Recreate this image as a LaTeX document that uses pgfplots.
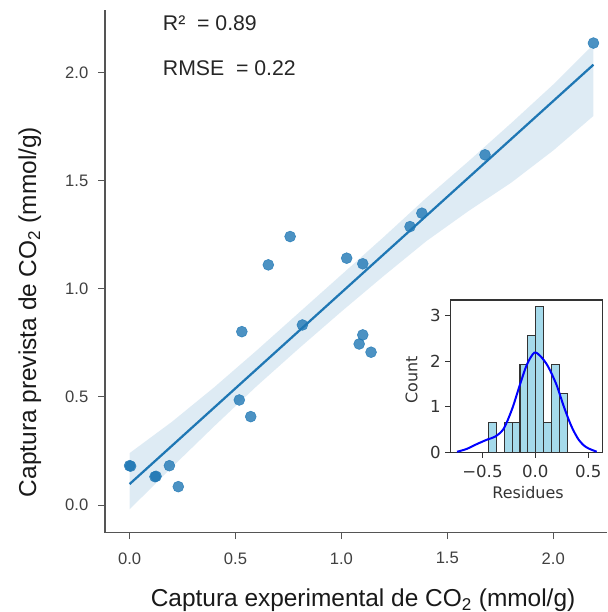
\documentclass[border=0pt]{standalone}
\usepackage{fontspec}
\setmainfont{Liberation Sans}
\newfontfamily\dejavu{DejaVu Sans}
\usepackage{pgfplots}
\pgfplotsset{compat=1.18}
\definecolor{c0}{HTML}{1F77B4}
\definecolor{histfill}{RGB}{165,218,235}
\definecolor{axgray}{RGB}{85,85,85}
\begin{document}
\begin{tikzpicture}
\useasboundingbox (0,0) rectangle (456bp,459bp);
\begin{axis}[
  at={(78.75bp,59.625bp)}, anchor=south west,
  width=376.5bp, height=391.875bp, scale only axis,
  xmin=-0.116, xmax=2.254, ymin=-0.127, ymax=2.29,
  axis x line*=bottom, axis y line*=left,
  axis line style={axgray, line width=0.9bp},
  tick align=outside, major tick length=5bp,
  tick style={axgray, line width=0.8bp},
  xtick={0,0.5,1,1.5,2}, xticklabels={0.0,0.5,1.0,1.5,2.0},
  ytick={0,0.5,1,1.5,2}, yticklabels={0.0,0.5,1.0,1.5,2.0},
  ticklabel style={font=\fontsize{12.5}{14}\selectfont, text=black!75},
  xticklabel style={yshift=-6.5bp},
  yticklabel style={xshift=-4bp},
  xlabel={Captura experimental de CO\textsubscript{2} (mmol/g)},
  ylabel={Captura prevista de CO\textsubscript{2} (mmol/g)},
  label style={font=\fontsize{18.4}{21}\selectfont, text=black!90},
  xlabel style={at={(axis description cs:0.514,-0.129)}, anchor=center},
  ylabel style={at={(axis description cs:-0.150,0.422)}, anchor=center},
  clip=false,
]
\addplot[c0, only marks, mark=*, mark size=4.1bp, mark options={draw=c0, fill=c0, opacity=0.8}] coordinates {
(0.0,0.182) (0.005,0.180) (0.12,0.131) (0.125,0.133) (0.188,0.182) (0.23,0.085)
(0.518,0.486) (0.53,0.802) (0.572,0.409) (0.655,1.111) (0.758,1.242) (0.816,0.833)
(1.025,1.142) (1.101,1.116) (1.101,0.787) (1.084,0.745) (1.14,0.707) (1.324,1.288)
(1.38,1.35) (1.678,1.62) (2.19,2.137)};
\addplot[fill=c0, fill opacity=0.15, draw=none] coordinates {
(0,0.24) (0.2,0.385) (0.4,0.545) (0.6,0.715) (0.8,0.89) (1.0,1.065) (1.2,1.24)
(1.4,1.42) (1.6,1.59) (1.8,1.765) (2.0,1.945) (2.19,2.13)
(2.19,1.80) (2.0,1.64) (1.8,1.49) (1.6,1.36) (1.4,1.22) (1.2,1.06) (1.0,0.895)
(0.8,0.725) (0.6,0.55) (0.4,0.365) (0.2,0.175) (0,-0.02)} -- cycle;
\addplot[c0, line width=1.7bp] coordinates {(0,0.097) (2.19,2.037)};
\node[anchor=west, font=\fontsize{16}{18}\selectfont, text=black!85] at (axis description cs:0.106,0.975) {R²\ \ = 0.89};
\node[anchor=west, font=\fontsize{16}{18}\selectfont, text=black!85] at (axis description cs:0.106,0.889) {RMSE\ \ = 0.22};
\end{axis}
\begin{axis}[
  at={(338.0bp,119.5bp)}, anchor=south west,
  width=114bp, height=114.5bp, scale only axis,
  xmin=-0.80, xmax=0.636, ymin=0, ymax=3.33,
  axis background/.style={fill=white},
  axis line style={black!80, line width=0.8bp},
  tick align=outside, xtick pos=bottom, ytick pos=left, major tick length=4bp,
  tick style={black!80, line width=0.7bp},
  xtick={-0.5,0,0.5}, xticklabels={−0.5,0.0,0.5},
  ytick={0,1,2,3}, yticklabels={0,1,2,3},
  ticklabel style={font=\dejavu\fontsize{12.5}{14}\selectfont, text=black!80},
  xticklabel style={yshift=-2bp},
  xlabel={Residues}, ylabel={Count},
  label style={font=\dejavu\fontsize{12}{14}\selectfont, text=black!80},
  xlabel style={at={(axis description cs:0.509,-0.264)}, anchor=center},
  ylabel style={at={(axis description cs:-0.257,0.476)}, anchor=center},
]
\addplot[ybar interval, fill=histfill, draw=black!80, line width=0.8bp] coordinates {
(-0.443,0.66) (-0.369,0) (-0.294,0.66) (-0.220,0.66) (-0.145,1.93) (-0.071,2.56)
(0.004,3.19) (0.078,0.66) (0.153,1.93) (0.227,1.29) (0.302,1.29)};
\addplot[blue, line width=1.5bp, smooth] coordinates {
(-0.74,0.02) (-0.65,0.08) (-0.55,0.19) (-0.45,0.29) (-0.38,0.35) (-0.30,0.52)
(-0.22,0.95) (-0.15,1.45) (-0.08,1.92) (-0.01,2.18) (0.05,2.10) (0.12,1.88)
(0.20,1.48) (0.27,1.00) (0.34,0.58) (0.41,0.28) (0.48,0.12) (0.58,0.02)};
\end{axis}
\end{tikzpicture}
\end{document}
